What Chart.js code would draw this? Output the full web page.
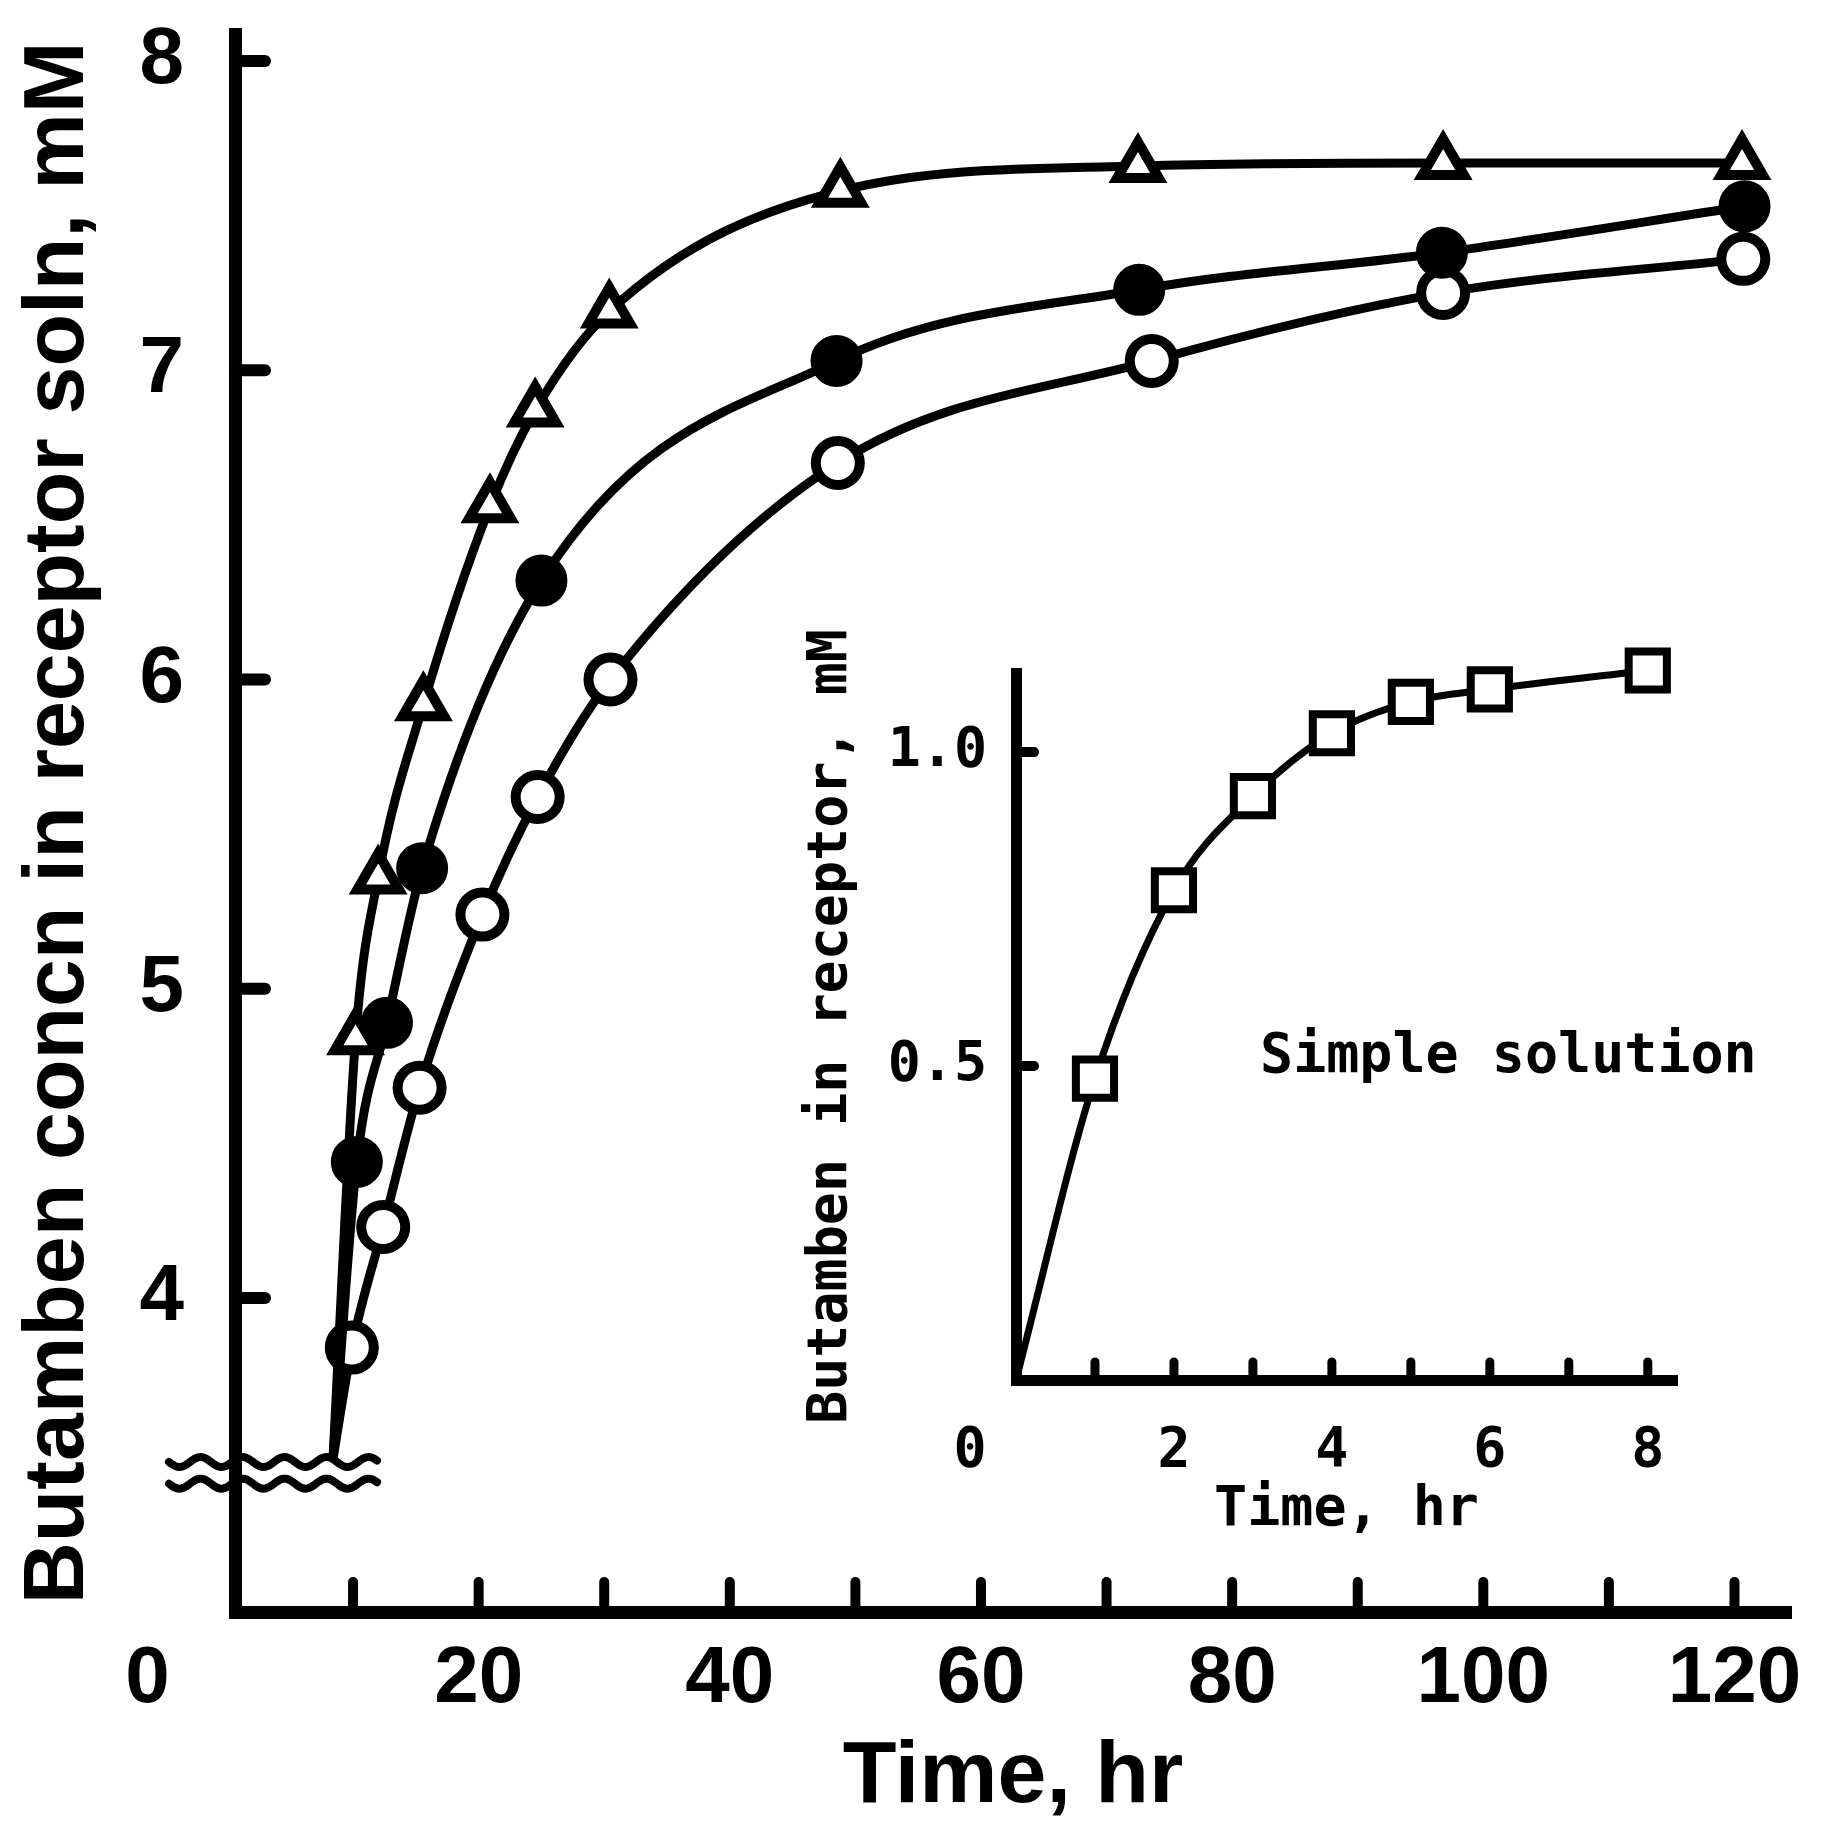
<!DOCTYPE html>
<html>
<head>
<meta charset="utf-8">
<title>Butamben concentration in receptor solution</title>
<script src="https://cdn.jsdelivr.net/npm/chart.js@4.4.1/dist/chart.umd.min.js"></script>
<style>
  html, body { margin: 0; padding: 0; background: #fff; }
  #wrap { position: relative; width: 1826px; height: 1826px; }
  #mainChart { position: absolute; left: 0; top: 0; }
  #insetChart { position: absolute; left: 780px; top: 600px; }
</style>
</head>
<body>
<div id="wrap">
  <canvas id="mainChart" width="1826" height="1826"></canvas>
  <canvas id="insetChart" width="1000" height="960"></canvas>
</div>
<script>
// --- main plot: butamben concn in receptor soln (mM) vs time (hr) ---
// all three curves come up out of the axis break at the same spot
const startTime = 8.4;
const startConc = 3.48;

const triTimes = [10.2, 12.0, 15.6, 20.9, 24.5, 30.4, 48.8, 72.5, 96.8, 120.6];
const triConc  = [4.84, 5.36, 5.92, 6.56, 6.87, 7.19, 7.58, 7.66, 7.67, 7.67];

const dotTimes = [10.3, 12.7, 15.5, 25.0, 48.5, 72.6, 96.7, 120.8];
const dotConc  = [4.44, 4.89, 5.39, 6.32, 7.03, 7.26, 7.38, 7.53];

const ringTimes = [9.9, 12.4, 15.3, 20.3, 24.7, 30.5, 48.6, 73.6, 96.8, 120.7];
const ringConc  = [3.84, 4.23, 4.68, 5.24, 5.62, 6.00, 6.70, 7.03, 7.25, 7.36];

const mainXTicks  = [10, 20, 30, 40, 50, 60, 70, 80, 90, 100, 110, 120];
const mainXLabels = [20, 40, 60, 80, 100, 120];
const mainYTicks  = [4, 5, 6, 7, 8];
const breakLevels = [3.47, 3.40];   // the two wavy lines of the y-axis break

// --- inset: simple solution ---
const insetTimes = [0, 1, 2, 3, 4, 5, 6, 8];
const insetConc  = [0, 0.48, 0.78, 0.93, 1.03, 1.08, 1.10, 1.13];
const insetXTicks  = [1, 2, 3, 4, 5, 6, 7, 8];
const insetXLabels = [2, 4, 6, 8];
const insetYTicks  = [0.5, 1.0];

const BOLD_SANS = "'Liberation Sans', Arial, sans-serif";
const MONO = "'DejaVu Sans Mono', 'Liberation Mono', monospace";

function toPoints(xs, ys) {
    return xs.map((x, i) => ({ x: x, y: ys[i] }));
}

function withStart(xs, ys) {
    return [{ x: startTime, y: startConc }].concat(toPoints(xs, ys));
}

// hide the marker on the first (break) point
const skipFirst = (r) => (ctx) => ctx.dataIndex === 0 ? 0 : r;

// fixed box sizes, and no extra room for overhanging labels
function fixWidth(w) {
    return s => { s.width = w; s.paddingTop = 0; s.paddingBottom = 0; };
}
function fixHeight(h) {
    return s => { s.height = h; s.paddingLeft = 0; s.paddingRight = 0; };
}

const mainDecor = {
    id: 'mainDecor',
    afterDraw(chart) {
        const { ctx, chartArea, scales } = chart;
        const x = scales.x, y = scales.y;
        ctx.save();
        ctx.strokeStyle = '#000';
        ctx.lineCap = 'round';

        // x ticks, pointing up into the plot
        ctx.lineWidth = 10;
        mainXTicks.forEach(t => {
            const px = x.getPixelForValue(t);
            ctx.beginPath();
            ctx.moveTo(px, chartArea.bottom);
            ctx.lineTo(px, chartArea.bottom - 30);
            ctx.stroke();
        });

        // y ticks, pointing right
        ctx.lineWidth = 12;
        mainYTicks.forEach(v => {
            const py = y.getPixelForValue(v);
            ctx.beginPath();
            ctx.moveTo(chartArea.left, py);
            ctx.lineTo(chartArea.left + 30, py);
            ctx.stroke();
        });

        // axis break
        ctx.lineWidth = 8;
        breakLevels.forEach(level => {
            const yc = y.getPixelForValue(level);
            const x0 = chartArea.left - 66, x1 = chartArea.left + 143;
            ctx.beginPath();
            for (let px = x0; px <= x1; px += 2) {
                const py = yc + 5 * Math.sin((px - x0) / 42 * 2 * Math.PI);
                if (px === x0) ctx.moveTo(px, py); else ctx.lineTo(px, py);
            }
            ctx.stroke();
        });

        // the origin "0" sits off to the left, under the corner
        ctx.fillStyle = '#000';
        ctx.font = 'bold 80px ' + BOLD_SANS;
        ctx.textAlign = 'center';
        ctx.textBaseline = 'middle';
        ctx.fillText('0', x.getPixelForValue(0) - 80, chartArea.bottom + 68);
        ctx.restore();
    }
};

new Chart(document.getElementById('mainChart'), {
    type: 'line',
    data: {
        datasets: [
            {
                data: withStart(triTimes, triConc),
                borderColor: '#000',
                borderWidth: 9,
                pointStyle: 'triangle',
                pointRadius: skipFirst(24),
                pointBorderWidth: 10,
                pointBackgroundColor: '#fff',
                pointBorderColor: '#000',
                cubicInterpolationMode: 'monotone',
                clip: false
            },
            {
                data: withStart(dotTimes, dotConc),
                borderColor: '#000',
                borderWidth: 9,
                pointStyle: 'circle',
                pointRadius: skipFirst(22),
                pointBorderWidth: 8,
                pointBackgroundColor: '#000',
                pointBorderColor: '#000',
                cubicInterpolationMode: 'monotone',
                clip: false
            },
            {
                data: withStart(ringTimes, ringConc),
                borderColor: '#000',
                borderWidth: 9,
                pointStyle: 'circle',
                pointRadius: skipFirst(22),
                pointBorderWidth: 10,
                pointBackgroundColor: '#fff',
                pointBorderColor: '#000',
                cubicInterpolationMode: 'monotone',
                clip: false
            }
        ]
    },
    options: {
        responsive: false,
        animation: false,
        devicePixelRatio: 1,
        layout: { padding: { top: 24, right: 35, left: 0, bottom: 0 } },
        plugins: {
            legend: { display: false },
            tooltip: { enabled: false }
        },
        scales: {
            x: {
                type: 'linear',
                min: 0.6,
                max: 124.5,
                afterFit: fixHeight(214),
                afterBuildTicks: s => { s.ticks = mainXLabels.map(v => ({ value: v })); },
                grid: { display: false, drawTicks: false },
                border: { display: true, width: 13, color: '#000' },
                ticks: {
                    color: '#000',
                    padding: 20,
                    autoSkip: false,
                    maxRotation: 0,
                    font: { family: BOLD_SANS, size: 80, weight: 'bold', lineHeight: 1.2 }
                },
                title: {
                    display: true,
                    text: 'Time, hr',
                    color: '#000',
                    padding: { top: 0, bottom: 4 },
                    font: { family: BOLD_SANS, size: 88, weight: 'bold', lineHeight: 1 }
                }
            },
            y: {
                type: 'linear',
                min: 2.985,
                max: 8.087,
                afterFit: fixWidth(235),
                afterBuildTicks: s => { s.ticks = mainYTicks.map(v => ({ value: v })); },
                grid: { display: false, drawTicks: false },
                border: { display: true, width: 13, color: '#000' },
                ticks: {
                    color: '#000',
                    padding: 51,
                    autoSkip: false,
                    font: { family: BOLD_SANS, size: 80, weight: 'bold', lineHeight: 1.2 }
                },
                title: {
                    display: true,
                    text: 'Butamben concn in receptor soln, mM',
                    color: '#000',
                    padding: { top: 16, bottom: 0 },
                    font: { family: BOLD_SANS, size: 86, weight: 'bold', lineHeight: 1 }
                }
            }
        }
    },
    plugins: [mainDecor]
});

const insetDecor = {
    id: 'insetDecor',
    afterDraw(chart) {
        const { ctx, chartArea, scales } = chart;
        const x = scales.x, y = scales.y;
        ctx.save();
        ctx.strokeStyle = '#000';
        ctx.lineCap = 'round';

        ctx.lineWidth = 9;
        insetXTicks.forEach(t => {
            const px = x.getPixelForValue(t);
            ctx.beginPath();
            ctx.moveTo(px, chartArea.bottom);
            ctx.lineTo(px, chartArea.bottom - 18);
            ctx.stroke();
        });

        ctx.lineWidth = 10;
        insetYTicks.forEach(v => {
            const py = y.getPixelForValue(v);
            ctx.beginPath();
            ctx.moveTo(chartArea.left, py);
            ctx.lineTo(chartArea.left + 18, py);
            ctx.stroke();
        });

        ctx.fillStyle = '#000';
        ctx.font = 'bold 55px ' + MONO;
        ctx.textBaseline = 'middle';
        ctx.textAlign = 'center';
        ctx.fillText('0', x.getPixelForValue(0) - 46, chartArea.bottom + 72);

        // series label
        ctx.textAlign = 'left';
        ctx.fillText('Simple solution', x.getPixelForValue(3.09), y.getPixelForValue(0.513));
        ctx.restore();
    }
};

new Chart(document.getElementById('insetChart'), {
    type: 'line',
    data: {
        datasets: [{
            data: toPoints(insetTimes, insetConc),
            borderColor: '#000',
            borderWidth: 7,
            pointStyle: 'rect',
            pointRadius: (ctx) => ctx.dataIndex === 0 ? 0 : 27,
            pointBorderWidth: 8,
            pointBackgroundColor: '#fff',
            pointBorderColor: '#000',
            cubicInterpolationMode: 'monotone',
            clip: false
        }]
    },
    options: {
        responsive: false,
        animation: false,
        devicePixelRatio: 1,
        layout: { padding: { top: 73, right: 103, left: 0, bottom: 0 } },
        plugins: {
            legend: { display: false },
            tooltip: { enabled: false }
        },
        scales: {
            x: {
                type: 'linear',
                min: 0,
                max: 8.37,
                afterFit: fixHeight(180),
                afterBuildTicks: s => { s.ticks = insetXLabels.map(v => ({ value: v })); },
                grid: { display: false, drawTicks: false },
                border: { display: true, width: 11, color: '#000' },
                ticks: {
                    color: '#000',
                    padding: 39,
                    autoSkip: false,
                    maxRotation: 0,
                    font: { family: MONO, size: 55, weight: 'bold', lineHeight: 1.2 }
                },
                title: {
                    display: true,
                    text: 'Time, hr',
                    color: '#000',
                    padding: { top: 0, bottom: 22 },
                    font: { family: MONO, size: 55, weight: 'bold', lineHeight: 1 }
                }
            },
            y: {
                type: 'linear',
                min: 0,
                max: 1.126,
                afterFit: fixWidth(236),
                afterBuildTicks: s => { s.ticks = insetYTicks.map(v => ({ value: v })); },
                grid: { display: false, drawTicks: false },
                border: { display: true, width: 11, color: '#000' },
                ticks: {
                    color: '#000',
                    padding: 29,
                    autoSkip: false,
                    callback: v => v.toFixed(1),
                    font: { family: MONO, size: 55, weight: 'bold', lineHeight: 1.2 }
                },
                title: {
                    display: true,
                    text: 'Butamben in receptor, mM',
                    color: '#000',
                    padding: { top: 24, bottom: 0 },
                    font: { family: MONO, size: 55, weight: 'bold', lineHeight: 1 }
                }
            }
        }
    },
    plugins: [insetDecor]
});
</script>
</body>
</html>
